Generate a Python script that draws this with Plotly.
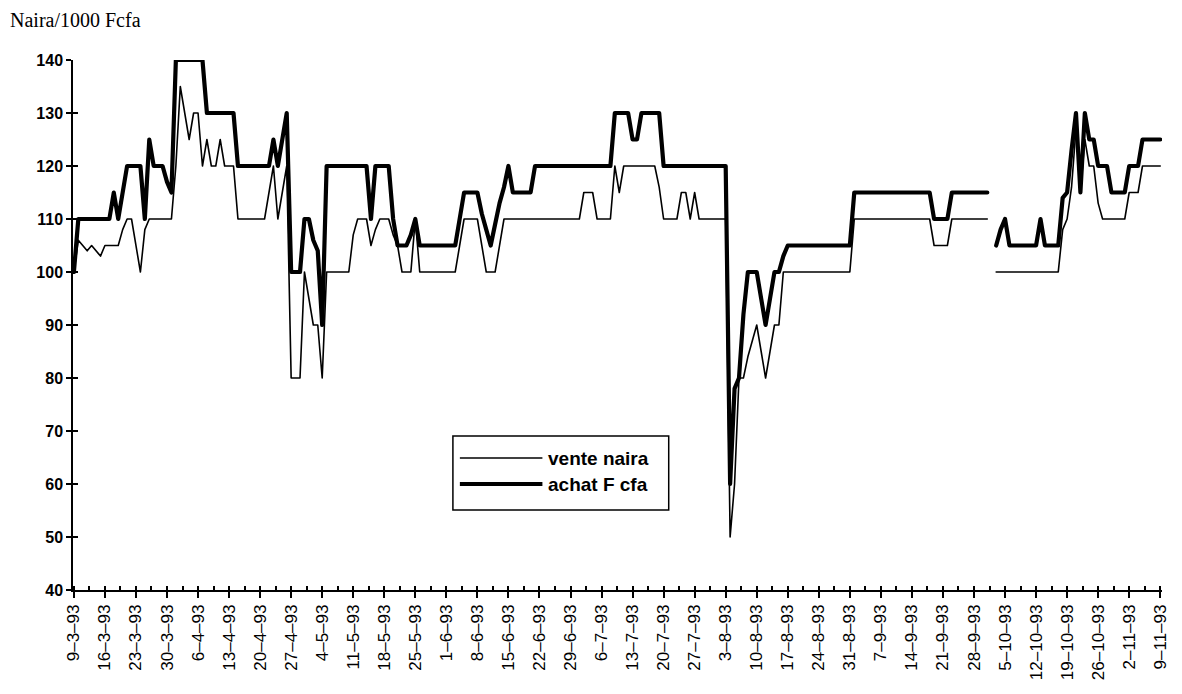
import pandas as pd
import plotly.graph_objects as go

# ---------------- data ----------------
START = "1993-03-09"          # first day of the series (day 0)

# "vente naira" (thin line): day offsets from 9-3-93 and values (naira / 1000 Fcfa)
vente_days = [0, 1, 2, 3, 4, 5, 6, 7, 10, 11, 12, 13, 14, 15, 16, 17, 22, 23, 24, 25,
              26, 27, 28, 29, 30, 31, 32, 33, 34, 36, 37, 43, 44, 45, 46, 47, 48, 49, 51, 52,
              53, 54, 55, 56, 57, 62, 63, 64, 66, 67, 68, 69, 71, 72, 73, 74, 76, 77, 78, 86,
              87, 88, 91, 92, 93, 95, 96, 97, 114, 115, 117, 118, 121, 122, 123, 124, 131, 132, 133, 136,
              137, 138, 139, 140, 141, 147, 148, 149, 150, 151, 152, 153, 154, 155, 156, 157, 158, 159, 160, 175,
              176, 193, 194, 197, 198, 206, 207, 208, 222, 223, 224, 225, 226, 227, 228, 229, 230, 231, 232, 237,
              238, 240, 241, 245]
vente_vals = [100, 106, 105, 104, 105, 104, 103, 105, 105, 108, 110, 110, 105, 100, 108, 110, 110, 120, 135, 130,
              125, 130, 130, 120, 125, 120, 120, 125, 120, 120, 110, 110, 115, 120, 110, 115, 120, 80, 80, 100,
              95, 90, 90, 80, 100, 100, 107, 110, 110, 105, 108, 110, 110, 107, 105, 100, 100, 110, 100, 100,
              105, 110, 110, 105, 100, 100, 105, 110, 110, 115, 115, 110, 110, 120, 115, 120, 120, 116, 110, 110,
              115, 115, 110, 115, 110, 110, 50, 60, 80, 80, 84, 87, 90, 85, 80, 85, 90, 90, 100, 100,
              110, 110, 105, 105, 110, 110, None, 100, 100, 108, 110, 116, 127, 115, 125, 120, 120, 113, 110, 110,
              115, 115, 120, 120]

# "achat F cfa" (thick line)
achat_days = [0, 1, 8, 9, 10, 11, 12, 15, 16, 17, 18, 20, 21, 22, 23, 29, 30, 36, 37, 44,
              45, 46, 47, 48, 49, 51, 52, 53, 54, 55, 56, 57, 66, 67, 68, 71, 72, 73, 75, 76,
              77, 78, 86, 87, 88, 91, 92, 93, 94, 95, 96, 97, 98, 99, 103, 104, 121, 122, 125, 126,
              127, 128, 132, 133, 147, 148, 149, 150, 151, 152, 154, 155, 156, 157, 158, 159, 160, 161, 175, 176,
              193, 194, 197, 198, 206, 207, 208, 209, 210, 211, 217, 218, 219, 222, 223, 224, 225, 226, 227, 228,
              229, 230, 231, 233, 234, 237, 238, 240, 241, 245]
achat_vals = [100, 110, 110, 115, 110, 115, 120, 120, 110, 125, 120, 120, 117, 115, 140, 140, 130, 130, 120, 120,
              125, 120, 125, 130, 100, 100, 110, 110, 106, 104, 90, 120, 120, 110, 120, 120, 110, 105, 105, 107,
              110, 105, 105, 110, 115, 115, 111, 108, 105, 109, 113, 116, 120, 115, 115, 120, 120, 130, 130, 125,
              125, 130, 130, 120, 120, 60, 78, 80, 92, 100, 100, 95, 90, 95, 100, 100, 103, 105, 105, 115,
              115, 110, 110, 115, 115, None, 105, 108, 110, 105, 105, 110, 105, 105, 114, 115, 123, 130, 115, 130,
              125, 125, 120, 120, 115, 115, 120, 120, 125, 125]

series_names = ["vente naira", "achat F cfa"]
y_ticks = [40, 50, 60, 70, 80, 90, 100, 110, 120, 130, 140]
y_title = "Naira/1000 Fcfa"

# ---------------- figure ----------------
# the page body adds an 8px margin, so the figure is drawn 8px smaller
OFF = 8
W, H = 1182 - OFF, 694 - OFF
ML, MT = 73 - OFF, 60 - OFF
PW, PH = 1095, 530
MR, MB = W - ML - PW, H - MT - PH

DAY_MS = 86400000
start = pd.Timestamp(START)


def to_dates(days):
    return [start + pd.Timedelta(days=d) for d in days]


def px_x(px):
    """page pixel -> paper x"""
    return (px - OFF - ML) / PW


def px_y(py):
    """page pixel -> paper y"""
    return (MT + PH - (py - OFF)) / PH


fig = go.Figure()
fig.add_trace(go.Scatter(
    x=to_dates(vente_days), y=vente_vals, mode="lines", name=series_names[0],
    line=dict(color="black", width=1.6), connectgaps=False, showlegend=False))
fig.add_trace(go.Scatter(
    x=to_dates(achat_days), y=achat_vals, mode="lines", name=series_names[1],
    line=dict(color="black", width=4.2), connectgaps=False, showlegend=False))
# empty trace to carry the inner half of the y ticks
fig.add_trace(go.Scatter(x=[], y=[], yaxis="y2", showlegend=False, hoverinfo="skip"))

fig.update_layout(
    width=W, height=H,
    margin=dict(l=ML, r=MR, t=MT, b=MB),
    paper_bgcolor="white", plot_bgcolor="white",
    showlegend=False,
    title=dict(text=y_title, x=(10 - OFF) / W, xanchor="left", xref="container",
               y=1 - (20 - OFF) / H, yanchor="middle", yref="container",
               font=dict(family="Liberation Serif", size=20, color="black")),
    xaxis=dict(
        type="date",
        range=[start - pd.Timedelta(days=0.2), start + pd.Timedelta(days=245.4)],
        tick0=START, dtick=7 * DAY_MS, tickformat="%-d–%-m–%y",
        tickangle=-90, ticks="outside", ticklen=6, tickwidth=1.5, tickcolor="black",
        showline=True, linecolor="black", linewidth=1.5,
        showgrid=False, zeroline=False,
        tickfont=dict(family="Liberation Sans", size=17, color="black"),
        minor=dict(ticks="inside", ticklen=4, tickwidth=1.5, tickcolor="black",
                   tick0=START, dtick=3.5 * DAY_MS, showgrid=False),
    ),
    yaxis=dict(
        range=[40, 140], tickvals=y_ticks, ticks="outside", ticklen=5, tickwidth=1.5,
        tickcolor="black", showline=True, linecolor="black", linewidth=1.5,
        showgrid=False, zeroline=False,
        tickfont=dict(family="Liberation Sans", size=16, color="black", weight="bold"),
    ),
    yaxis2=dict(
        overlaying="y", side="left", range=[40, 140], tickvals=y_ticks,
        ticks="inside", ticklen=5, tickwidth=1.5, tickcolor="black",
        showticklabels=False, showline=False, showgrid=False, zeroline=False,
    ),
)

# ---------------- legend (boxed, as in the reference) ----------------
box = dict(x0=455, x1=672, y0=436, y1=510)
sample_x0, sample_x1, text_x = 462, 545, 549
rows_y = [458, 484]
widths = [1.6, 4.2]

fig.add_shape(type="rect", xref="paper", yref="paper",
              x0=px_x(box["x0"]), x1=px_x(box["x1"]),
              y0=px_y(box["y1"]), y1=px_y(box["y0"]),
              line=dict(color="black", width=1.5), fillcolor="white", layer="above")
for name, ry, w in zip(series_names, rows_y, widths):
    fig.add_shape(type="line", xref="paper", yref="paper",
                  x0=px_x(sample_x0), x1=px_x(sample_x1), y0=px_y(ry), y1=px_y(ry),
                  line=dict(color="black", width=w), layer="above")
    fig.add_annotation(xref="paper", yref="paper", x=px_x(text_x), y=px_y(ry),
                       xanchor="left", yanchor="middle", showarrow=False, text=name,
                       font=dict(family="Liberation Sans", size=19, color="black", weight="bold"))

# rounded joins on the data lines, like the original Excel rendering
ROUND_JOINS = """
document.querySelectorAll('.scatterlayer path.js-line').forEach(function (p) {
    p.style.strokeLinejoin = 'round';
    p.style.strokeLinecap = 'round';
});
"""

fig.write_html("out.html", post_script=ROUND_JOINS)
